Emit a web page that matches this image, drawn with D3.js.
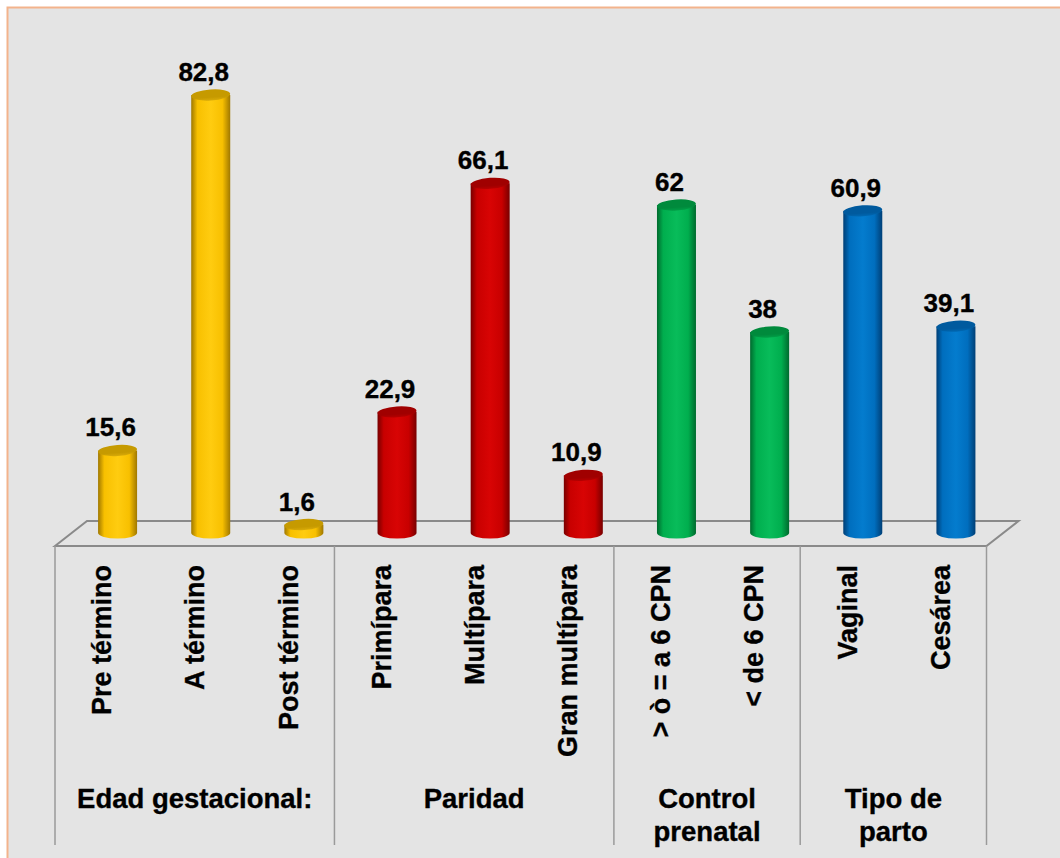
<!DOCTYPE html>
<html>
<head>
<meta charset="utf-8">
<script src="https://cdn.jsdelivr.net/npm/d3@7"></script>
<style>
  html, body { margin: 0; padding: 0; background: #ffffff; }
  svg { display: block; }
  text { font-family: "Liberation Sans", Arial, sans-serif; font-weight: bold; fill: #000;
         stroke: #000; stroke-width: 0.35px; }
</style>
</head>
<body>
<svg id="chart" width="1060" height="858"></svg>
<script>
// ---- data ----
const categories = ["Pre término", "A término", "Post término", "Primípara", "Multípara",
                    "Gran multípara", "> ò = a 6 CPN", "< de 6 CPN", "Vaginal", "Cesárea"];
const values = [15.6, 82.8, 1.6, 22.9, 66.1, 10.9, 62, 38, 60.9, 39.1];
const groupOf = [0, 0, 0, 1, 1, 1, 2, 2, 3, 3];
const groupLabels = [["Edad gestacional:"], ["Paridad"], ["Control", "prenatal"], ["Tipo de", "parto"]];
const groupColors = ["yellow", "red", "green", "blue"];

// ---- styles ----
const palette = {
  yellow: { edge: "#a07800", mid: "#f8c000", light: "#ffcc10", top: "#c69a00", topLight: "#d8aa08" },
  red:    { edge: "#780000", mid: "#c80000", light: "#d80404", top: "#a00000", topLight: "#b60000" },
  green:  { edge: "#006a2e", mid: "#00ae4e", light: "#08bc5a", top: "#008a3c", topLight: "#009e46" },
  blue:   { edge: "#003f76", mid: "#006ebe", light: "#047cce", top: "#005a9e", topLight: "#0068b2" }
};

const W = 1060, H = 858;
const svg = d3.select("#chart");

// background + frame
svg.append("rect").attr("x", 7).attr("y", 7).attr("width", W).attr("height", H).attr("fill", "#e4e4e4");
svg.append("path").attr("d", `M7.5,${H} L7.5,7.5 L${W},7.5`).attr("fill", "none")
   .attr("stroke", "#f3b38c").attr("stroke-width", 2);

// scales
const x0 = 55, x1 = 986.5;
const x = d3.scaleBand().domain(categories).range([x0, x1]).paddingInner(0).paddingOuter(0);
const baseY = 533;
const y = d3.scaleLinear().domain([0, 82.8]).range([baseY, 95]);
const floorFront = 546, depthX = 32, depthY = 25;
const barOffX = 16;      // bars sit in the middle of the depth
const barW = 39, ry = 5.5;

// gradients
const defs = svg.append("defs");
Object.entries(palette).forEach(([k, c]) => {
  const g = defs.append("linearGradient").attr("id", "body-" + k)
    .attr("x1", "0%").attr("x2", "100%").attr("y1", "0%").attr("y2", "0%");
  [[0, c.edge], [0.16, c.mid], [0.5, c.light], [0.8, c.mid], [1, c.edge]].forEach(([o, col]) =>
    g.append("stop").attr("offset", o).attr("stop-color", col));
  const t = defs.append("linearGradient").attr("id", "top-" + k)
    .attr("x1", "0%").attr("x2", "0%").attr("y1", "0%").attr("y2", "100%");
  [[0, c.top], [0.7, c.top], [1, c.topLight]].forEach(([o, col]) =>
    t.append("stop").attr("offset", o).attr("stop-color", col));
});

// floor
const floor = svg.append("g").attr("fill", "none").attr("stroke", "#8a8a8a").attr("stroke-width", 2);
floor.append("path").attr("d",
  `M${x0},${floorFront} L${x0 + depthX},${floorFront - depthY} L${x1 + depthX},${floorFront - depthY} L${x1},${floorFront} Z`);

// group dividers
const divIdx = [0];
groupOf.forEach((g, i) => { if (i > 0 && g !== groupOf[i - 1]) divIdx.push(i); });
const divX = divIdx.map(i => x(categories[i])).concat([x1]);
svg.append("g").selectAll("line").data(divX).join("line")
  .attr("x1", d => d).attr("x2", d => d).attr("y1", floorFront).attr("y2", 845)
  .attr("stroke", "#9a9a9a").attr("stroke-width", 1.5);

// bars (cylinders)
const bars = svg.append("g").selectAll("g").data(values).join("g");
bars.each(function (v, i) {
  const g = d3.select(this);
  const col = groupColors[groupOf[i]];
  const cx = x(categories[i]) + x.bandwidth() / 2 + barOffX;
  const top = y(v), rx = barW / 2;
  g.append("path")
    .attr("d", `M${cx - rx},${top} L${cx - rx},${baseY} A${rx},${ry} 0 0 0 ${cx + rx},${baseY} L${cx + rx},${top} Z`)
    .attr("fill", `url(#body-${col})`);
  g.append("ellipse").attr("cx", cx).attr("cy", top).attr("rx", rx).attr("ry", ry)
    .attr("transform", `rotate(-4 ${cx} ${top})`)
    .attr("fill", `url(#top-${col})`);
});

// value labels
svg.append("g").selectAll("text").data(values).join("text")
  .attr("x", (v, i) => x(categories[i]) + x.bandwidth() / 2 + barOffX - 7)
  .attr("y", v => y(v) - 14)
  .attr("text-anchor", "middle")
  .attr("font-size", 26)
  .text(v => String(v).replace(".", ","));

// category labels (rotated)
svg.append("g").selectAll("text").data(categories).join("text")
  .attr("transform", d => `translate(${x(d) + x.bandwidth() / 2},565) rotate(-90)`)
  .attr("text-anchor", "end")
  .attr("dy", "0.36em")
  .attr("font-size", 27)
  .text(d => d);

// group labels
const gl = svg.append("g").selectAll("text").data(groupLabels).join("text")
  .attr("text-anchor", "middle")
  .attr("font-size", 27.5)
  .attr("x", (d, gi) => (divX[gi] + divX[gi + 1]) / 2)
  .attr("y", 808);
gl.selectAll("tspan").data(d => d).join("tspan")
  .attr("x", function () { return d3.select(this.parentNode).attr("x"); })
  .attr("dy", (d, j) => j === 0 ? 0 : 33)
  .text(d => d);
</script>
</body>
</html>
